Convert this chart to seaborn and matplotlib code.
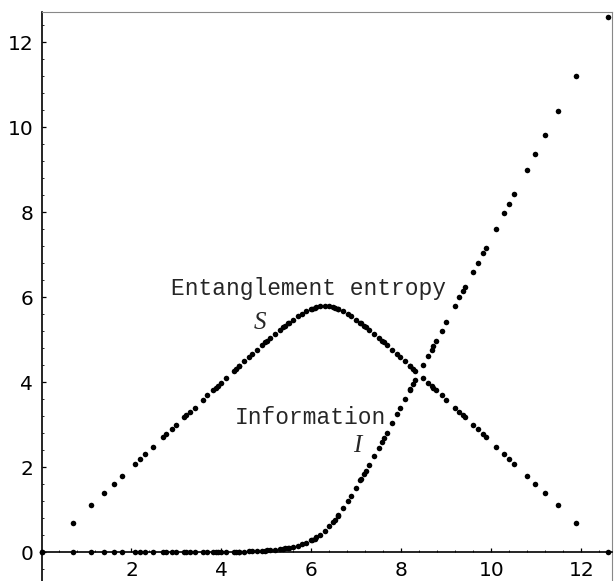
import matplotlib
matplotlib.use("Agg")
import matplotlib.pyplot as plt
import seaborn as sns
import pandas as pd
from matplotlib.ticker import MultipleLocator

# ===============================
# Data: ln(m), entanglement entropy S, information I
# ===============================
x_vals = [0.000, 0.693, 1.099, 1.386, 1.609, 1.792, 2.079, 2.197, 2.303, 2.485,
          2.708, 2.773, 2.890, 2.996, 3.178, 3.219, 3.296, 3.401, 3.584, 3.689,
          3.807, 3.871, 3.912, 3.989, 4.094, 4.277, 4.317, 4.382, 4.394, 4.500,
          4.605, 4.682, 4.787, 4.905, 4.970, 5.011, 5.088, 5.193, 5.298, 5.375,
          5.416, 5.481, 5.493, 5.598, 5.704, 5.781, 5.886, 5.991, 6.004, 6.068,
          6.109, 6.186, 6.292, 6.397, 6.474, 6.515, 6.579, 6.592, 6.697, 6.802,
          6.879, 6.985, 7.090, 7.102, 7.167, 7.208, 7.285, 7.390, 7.496, 7.573,
          7.613, 7.678, 7.796, 7.901, 7.978, 8.083, 8.189, 8.201, 8.266, 8.306,
          8.489, 8.594, 8.671, 8.712, 8.776, 8.894, 9.000, 9.182, 9.287, 9.364,
          9.405, 9.587, 9.693, 9.811, 9.875, 10.098, 10.281, 10.386, 10.504, 10.791,
          10.974, 11.197, 11.485, 11.890, 12.583]

S_vals = [0.000, 0.693, 1.099, 1.386, 1.609, 1.792, 2.079, 2.197, 2.303, 2.485,
          2.708, 2.773, 2.889, 2.995, 3.177, 3.218, 3.295, 3.399, 3.582, 3.686,
          3.804, 3.867, 3.908, 3.984, 4.088, 4.268, 4.307, 4.371, 4.383, 4.486,
          4.588, 4.662, 4.762, 4.874, 4.934, 4.972, 5.043, 5.137, 5.229, 5.295,
          5.329, 5.382, 5.392, 5.473, 5.550, 5.601, 5.664, 5.717, 5.723, 5.748,
          5.762, 5.781, 5.792, 5.781, 5.762, 5.748, 5.723, 5.717, 5.664, 5.601,
          5.550, 5.473, 5.392, 5.382, 5.329, 5.295, 5.229, 5.137, 5.043, 4.972,
          4.934, 4.874, 4.762, 4.662, 4.588, 4.486, 4.383, 4.371, 4.307, 4.268,
          4.088, 3.984, 3.908, 3.867, 3.804, 3.686, 3.582, 3.399, 3.295, 3.218,
          3.177, 2.995, 2.889, 2.773, 2.708, 2.485, 2.303, 2.197, 2.079, 1.792,
          1.609, 1.386, 1.099, 0.693, 0.000]

I_vals = [0, 0, 0, 0, 0, 0, 0, 0, 0, 0,
          0, 0, 0.001, 0.001, 0.001, 0.001, 0.001, 0.002, 0.002, 0.003,
          0.003, 0.004, 0.004, 0.005, 0.006, 0.009, 0.010, 0.011, 0.011, 0.014,
          0.017, 0.020, 0.025, 0.031, 0.036, 0.039, 0.045, 0.056, 0.069, 0.080,
          0.087, 0.099, 0.101, 0.125, 0.154, 0.180, 0.222, 0.274, 0.281, 0.320,
          0.347, 0.405, 0.500, 0.616, 0.712, 0.766, 0.857, 0.875, 1.033, 1.202,
          1.330, 1.511, 1.698, 1.721, 1.838, 1.913, 2.055, 2.253, 2.453, 2.600,
          2.679, 2.804, 3.033, 3.239, 3.390, 3.597, 3.805, 3.830, 3.958, 4.039,
          4.401, 4.610, 4.763, 4.845, 4.973, 5.208, 5.418, 5.782, 5.993, 6.146,
          6.228, 6.592, 6.803, 7.038, 7.167, 7.614, 7.978, 8.189, 8.424, 9.000,
          9.364, 9.811, 10.386, 11.197, 12.583]

x_ticks = [2, 4, 6, 8, 10, 12]
y_ticks = [0, 2, 4, 6, 8, 10, 12]

df = pd.DataFrame({"x": x_vals, "S": S_vals, "I": I_vals})

sns.set_style("white")
plt.rcParams["font.family"] = ["DejaVu Sans"]

fig = plt.figure(figsize=(6.15, 5.81), dpi=100)
ax = fig.add_axes([41.5 / 615, 0, (612 - 41.5) / 615, (581 - 12) / 581])

sns.scatterplot(data=df, x="x", y="S", ax=ax, color="black", s=16,
                linewidth=0, clip_on=False, zorder=3)
sns.scatterplot(data=df, x="x", y="I", ax=ax, color="black", s=16,
                linewidth=0, clip_on=False, zorder=3)

ax.set_xlim(0, 12.68)
ax.set_ylim(-0.68, 12.71)
ax.set_xlabel("")
ax.set_ylabel("")

# axes through the origin, thin frame top/right
ax.spines["left"].set_position(("data", 0))
ax.spines["bottom"].set_position(("data", 0))
for side in ["left", "bottom"]:
    ax.spines[side].set_color("black")
    ax.spines[side].set_linewidth(1.2)
ax.spines["top"].set_color("#888888")
ax.spines["top"].set_linewidth(0.8)
ax.spines["right"].set_color("#888888")
ax.spines["right"].set_linewidth(0.8)
ax.spines["right"].set_linestyle((0, (1, 1)))

ax.set_xticks(x_ticks)
ax.set_yticks(y_ticks)
ax.xaxis.set_minor_locator(MultipleLocator(0.4))
ax.yaxis.set_minor_locator(MultipleLocator(0.4))
ax.tick_params(which="major", direction="in", length=3, width=0.9,
               labelsize=14.5, colors="black", top=False, right=False,
               left=True, bottom=True)
ax.tick_params(which="minor", direction="in", length=1.6, width=0.7,
               top=False, right=False, left=True, bottom=True)
ax.tick_params(axis="x", pad=6.5)
ax.tick_params(axis="y", pad=6)

# annotations
mono = dict(family="Liberation Mono", fontsize=16.5, ha="left", va="baseline")
ital = dict(family="Liberation Serif", style="italic", fontsize=18,
            ha="left", va="baseline")
ax.text(2.88, 6.05, "Entanglement entropy", **mono)
ax.text(4.72, 5.25, "S", **ital)
ax.text(4.30, 3.01, "Information", **mono)
ax.text(6.92, 2.35, "I", **ital)

fig.savefig("out.png", dpi=100)
